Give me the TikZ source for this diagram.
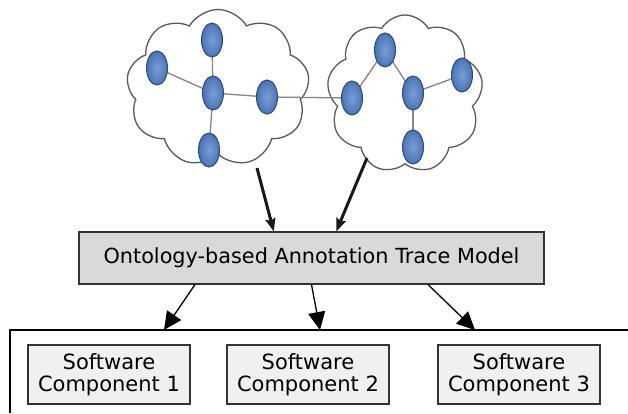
\documentclass[tikz,border=0pt]{standalone}
\usepackage{fontspec}
\setmainfont{DejaVu Sans}
\usetikzlibrary{shapes.symbols,shapes.geometric,arrows.meta,calc}
\definecolor{nodefill}{HTML}{4A74B4}
\definecolor{nodelight}{HTML}{7A9ED6}
\definecolor{nodeedge}{HTML}{2A4A80}
\definecolor{cloudline}{HTML}{5A5A5A}
\definecolor{edgegray}{HTML}{858585}
\definecolor{mainfill}{HTML}{D9D9D9}
\definecolor{compfill}{HTML}{F0F0F0}
\begin{document}
\begin{tikzpicture}[x=1pt,y=-1pt,
  cloudshape/.style={cloud, cloud puffs=9, cloud puff arc=120, draw=cloudline, line width=1.3pt, fill=white, inner sep=0pt},
  onode/.style={ellipse, minimum width=21pt, minimum height=34pt, inner sep=0pt, draw=nodeedge, line width=1pt, inner color=nodelight, outer color=nodefill},
  oedge/.style={draw=edgegray, line width=1.3pt},
  mainbox/.style={draw=black!80, line width=1.2pt, fill=mainfill, minimum width=465pt, minimum height=52pt, inner sep=0pt, font=\fontsize{20.8}{23}\selectfont},
  compbox/.style={draw=black!80, line width=1.2pt, fill=compfill, minimum width=162pt, minimum height=59pt, inner sep=0pt, align=center, font=\fontsize{21}{22.5}\selectfont},
  thinarrow/.style={line width=1.3pt, -{Triangle[length=18pt,width=17pt]}},
  thickarrow/.style={line width=3pt, draw=black!90, -{Stealth[length=13pt,width=10pt,inset=2pt]}}
]
\useasboundingbox (0,0) rectangle (628,413);
\fill[white] (0,0) rectangle (628,413);

% clouds
\node[cloudshape, minimum width=183pt, minimum height=157pt] (cloudL) at (218,88) {};
\node[cloudshape, minimum width=156pt, minimum height=158pt] (cloudR) at (405,94) {};

% ontology edges
\coordinate (nA) at (212,40);
\coordinate (nB) at (157,68);
\coordinate (nC) at (213,93);
\coordinate (nD) at (267,97);
\coordinate (nE) at (209,150);
\coordinate (nF) at (352,98);
\coordinate (nG) at (385,50);
\coordinate (nH) at (413,93);
\coordinate (nI) at (462,75);
\coordinate (nJ) at (413,147);
\draw[oedge] (nB) -- (nC);
\draw[oedge] (nA) -- (nC);
\draw[oedge] (nC) -- (nD);
\draw[oedge] (nC) -- (nE);
\draw[oedge] (nD) -- (nF);
\draw[oedge] (nF) -- (nG);
\draw[oedge] (nG) -- (nH);
\draw[oedge] (nH) -- (nI);
\draw[oedge] (nH) -- (nJ);

% ontology nodes
\node[onode] (A) at (nA) {};
\node[onode] (B) at (nB) {};
\node[onode] (C) at (nC) {};
\node[onode] (D) at (nD) {};
\node[onode] (E) at (nE) {};
\node[onode] (F) at (nF) {};
\node[onode] (G) at (nG) {};
\node[onode] (H) at (nH) {};
\node[onode] (I) at (nI) {};
\node[onode] (J) at (nJ) {};

% main box
\node[mainbox] (main) at (311.5,258) {Ontology-based Annotation Trace Model};

% arrows from clouds
\coordinate (cs1) at (257,168);
\coordinate (cs2) at (367,158);
\draw[thickarrow] (cs1) -- ($(main.north west)!0.419!(main.north east)$);
\draw[thickarrow] (cs2) -- ($(main.north west)!0.553!(main.north east)$);

% container lines
\coordinate (lineL) at (10,330);
\coordinate (lineR) at (628,330);
\coordinate (lineB) at (10,413);
\draw[line width=1.2pt] (lineR) -- (lineL) -- (lineB);

% arrows to container
\coordinate (t1) at (164,330);
\coordinate (t2) at (320,330);
\coordinate (t3) at (475,330);
\draw[thinarrow] ($(main.south west)!0.25!(main.south east)$) -- (t1);
\draw[thinarrow] ($(main.south west)!0.5!(main.south east)$) -- (t2);
\draw[thinarrow] ($(main.south west)!0.75!(main.south east)$) -- (t3);

% components
\node[compbox] (c1) at (109,374.5) {Software\\Component 1};
\node[compbox] (c2) at (308,374.5) {Software\\Component 2};
\node[compbox] (c3) at (519,374.5) {Software\\Component 3};
\end{tikzpicture}
\end{document}
